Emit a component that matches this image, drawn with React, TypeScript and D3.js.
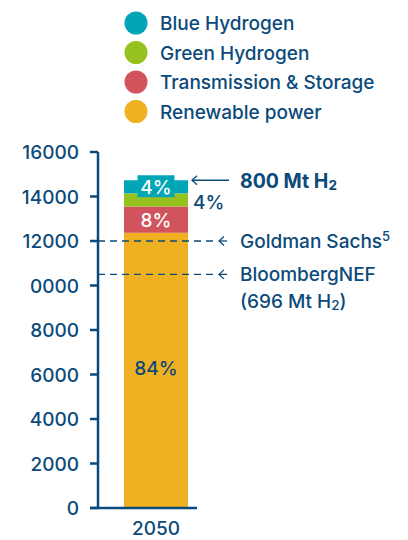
import React from 'react';
import * as d3 from 'd3';

// Data
const categories = ['Renewable power', 'Transmission & Storage', 'Green Hydrogen', 'Blue Hydrogen'];
const values = [12370, 1180, 590, 590];
const shareLabels = ['84%', '8%', '4%', '4%'];
const colors = ['#efb022', '#d1545c', '#97c11f', '#00a6b6'];
const legendOrder = ['Blue Hydrogen', 'Green Hydrogen', 'Transmission & Storage', 'Renewable power'];
const tickValues = [0, 2000, 4000, 6000, 8000, 10000, 12000, 14000, 16000];
const tickLabels = ['0', '2000', '4000', '6000', '8000', '0000', '12000', '14000', '16000'];
const year = '2050';
const references = [
  { name: 'Goldman Sachs', sup: '5', value: 12000 },
  { name: 'BloombergNEF', sup: '', value: 10500 },
];

const INK = '#0b4a7a';
const FONT = 'Inter, "Noto Sans", sans-serif';
const FS = 19;

const App: React.FC = () => {
  const width = 408;
  const height = 540;

  const y = d3.scaleLinear().domain([0, 16000]).range([508, 152]);
  const x = d3.scaleBand().domain([year]).range([124, 188]).padding(0);
  const bx = x(year) as number;
  const bw = x.bandwidth();
  const cx = bx + bw / 2;

  const stacked = d3.stack<number[]>().keys(categories.map((_, i) => String(i)))
    .value((d, k) => d[+k])([values]);
  const segs = stacked.map((s, i) => ({ y0: s[0][0], y1: s[0][1], i }));
  const total = d3.sum(values);
  const topY = y(total);

  const arrowHead = (xh: number, yh: number) =>
    `M${xh + 5},${yh - 4.5} L${xh},${yh} L${xh + 5},${yh + 4.5}`;

  return (
    <div style={{ position: 'absolute', left: 0, top: 0 }}>
      <svg width={width} height={height} style={{ display: 'block', fontFamily: FONT, fontWeight: 500 }}>
        <rect width={width} height={height} fill="#ffffff" />

        {/* Legend */}
        {legendOrder.map((name, i) => (
          <g key={name} transform={`translate(136,${23 + i * 29.5})`}>
            <circle r={11.5} fill={colors[categories.indexOf(name)]} />
            <text x={24} y={7} fontSize={FS} fill={INK}>{name}</text>
          </g>
        ))}

        {/* Bar segments */}
        {segs.map(s => (
          <rect key={s.i} x={bx} width={bw} y={y(s.y1)} height={y(s.y0) - y(s.y1)} fill={colors[s.i]} />
        ))}

        {/* Label boxes / share labels */}
        <rect x={cx - 18.5} y={topY - 5} width={37} height={22} fill={colors[3]} />
        <text x={cx} y={topY + 13.5} fontSize={FS} fill="#ffffff" textAnchor="middle">{shareLabels[3]}</text>
        <text x={cx} y={(y(segs[1].y0) + y(segs[1].y1)) / 2 + 7} fontSize={FS} fill="#ffffff" textAnchor="middle">{shareLabels[1]}</text>
        <text x={cx} y={y(6000) + 0} fontSize={FS} fill={INK} textAnchor="middle">{shareLabels[0]}</text>
        <text x={bx + bw + 5} y={(y(segs[2].y0) + y(segs[2].y1)) / 2 + 9.5} fontSize={FS} fill={INK}>{shareLabels[2]}</text>

        {/* Reference lines */}
        {references.map(r => (
          <g key={r.name}>
            <line x1={98} x2={214} y1={y(r.value)} y2={y(r.value)} stroke={INK} strokeWidth={1.3} strokeDasharray="7,5" />
            <line x1={219} x2={227} y1={y(r.value)} y2={y(r.value)} stroke={INK} strokeWidth={1.3} />
            <path d={arrowHead(219, y(r.value))} fill="none" stroke={INK} strokeWidth={1.3} />
          </g>
        ))}
        <text x={240} y={y(references[0].value) + 7} fontSize={FS} fill={INK}>
          {references[0].name}<tspan dy={-7} fontSize={13}>{references[0].sup}</tspan>
        </text>
        <text x={240} y={y(references[1].value) + 7} fontSize={FS} fill={INK}>{references[1].name}</text>
        <text x={240} y={y(references[1].value) + 34} fontSize={FS} fill={INK}>
          (696 Mt H<tspan fontSize={13.5} dy={2}>2</tspan><tspan dy={-2}>)</tspan>
        </text>

        {/* Total annotation */}
        <line x1={192} x2={229} y1={topY} y2={topY} stroke={INK} strokeWidth={1.3} />
        <path d={arrowHead(192, topY)} fill="none" stroke={INK} strokeWidth={1.3} />
        <text x={240} y={topY + 8} fontSize={19.5} fontWeight={700} fill={INK}>
          800 Mt H<tspan fontSize={13.5} dy={2}>2</tspan>
        </text>

        {/* Y axis */}
        <line x1={98} x2={98} y1={y(16000)} y2={y(0)} stroke={INK} strokeWidth={2.5} />
        {tickValues.map((v, i) => (
          <g key={v}>
            <line x1={90} x2={98} y1={y(v)} y2={y(v)} stroke={INK} strokeWidth={2.5} />
            <text x={79} y={y(v) + 7} fontSize={FS} fill={INK} textAnchor="end">{tickLabels[i]}</text>
          </g>
        ))}
        {/* X axis */}
        <line x1={90} x2={197} y1={y(0)} y2={y(0)} stroke={INK} strokeWidth={2.5} />
        <text x={cx} y={535} fontSize={FS} fill={INK} textAnchor="middle">{year}</text>
      </svg>
    </div>
  );
};

export default App;
